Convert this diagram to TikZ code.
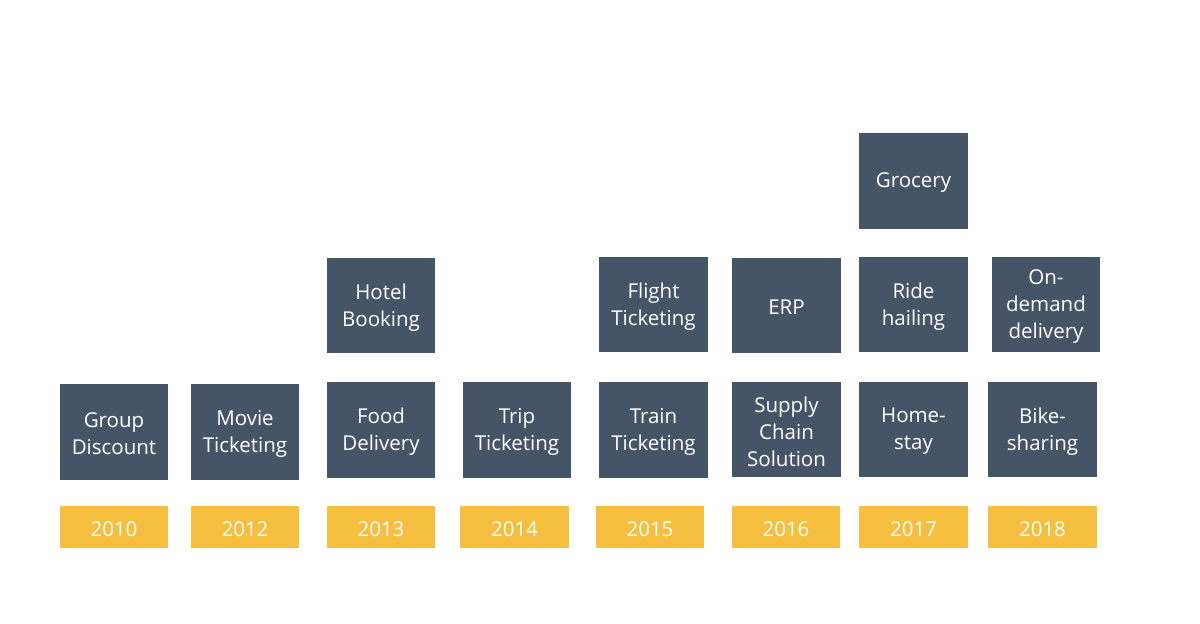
\documentclass[tikz,border=0pt]{standalone}
\usepackage{fontspec}
\setmainfont{Open Sans}
\definecolor{boxdark}{HTML}{465468}
\definecolor{boxyellow}{HTML}{F6BF40}
\tikzset{
  item/.style={fill=boxdark, text=white, align=center, font=\fontsize{20.5}{27}\selectfont, inner sep=0pt},
  year/.style={fill=boxyellow, text=white, font=\fontsize{20.5}{24}\selectfont, inner sep=0pt}
}
\newcommand{\ibox}[6]{% name, x1, y1, x2, y2, text
  \fill[boxdark] (#2,#3) rectangle (#4,#5);
  \node[item] (#1) at ({(#2+#4)/2},{(#3+#5)/2+2}) {#6};
}
\newcommand{\ybox}[4]{% name, x1, x2, text
  \fill[boxyellow] (#2,506) rectangle (#3,548);
  \node[year] (#1) at ({(#2+#3)/2},529) {#4};
}
\begin{document}
\begin{tikzpicture}[x=1pt,y=-1pt]
\useasboundingbox (0,0) rectangle (1200,624);
\ibox{a1}{60}{384}{168}{480}{Group\\Discount}
\ibox{b1}{191}{384}{299}{480}{Movie\\Ticketing}
\ibox{c1}{327}{382}{435}{478}{Food\\Delivery}
\ibox{c2}{327}{258}{435}{353}{Hotel\\Booking}
\ibox{d1}{463}{382}{571}{478}{Trip\\Ticketing}
\ibox{e1}{599}{382}{708}{478}{Train\\Ticketing}
\ibox{e2}{599}{257}{708}{352}{Flight\\Ticketing}
\ibox{f1}{732}{382}{841}{477}{Supply\\Chain\\Solution}
\ibox{f2}{732}{258}{841}{353}{ERP}
\ibox{g1}{859}{382}{968}{477}{Home-\\stay}
\ibox{g2}{859}{257}{968}{352}{Ride\\hailing}
\ibox{g3}{859}{133}{968}{229}{Grocery}
\ibox{h1}{988}{382}{1097}{477}{Bike-\\sharing}
\ibox{h2}{992}{257}{1100}{352}{On-\\demand\\delivery}
\ybox{y1}{60}{168}{2010}
\ybox{y2}{191}{299}{2012}
\ybox{y3}{327}{435}{2013}
\ybox{y4}{460}{569}{2014}
\ybox{y5}{596}{704}{2015}
\ybox{y6}{732}{840}{2016}
\ybox{y7}{859}{968}{2017}
\ybox{y8}{988}{1097}{2018}
\end{tikzpicture}
\end{document}
